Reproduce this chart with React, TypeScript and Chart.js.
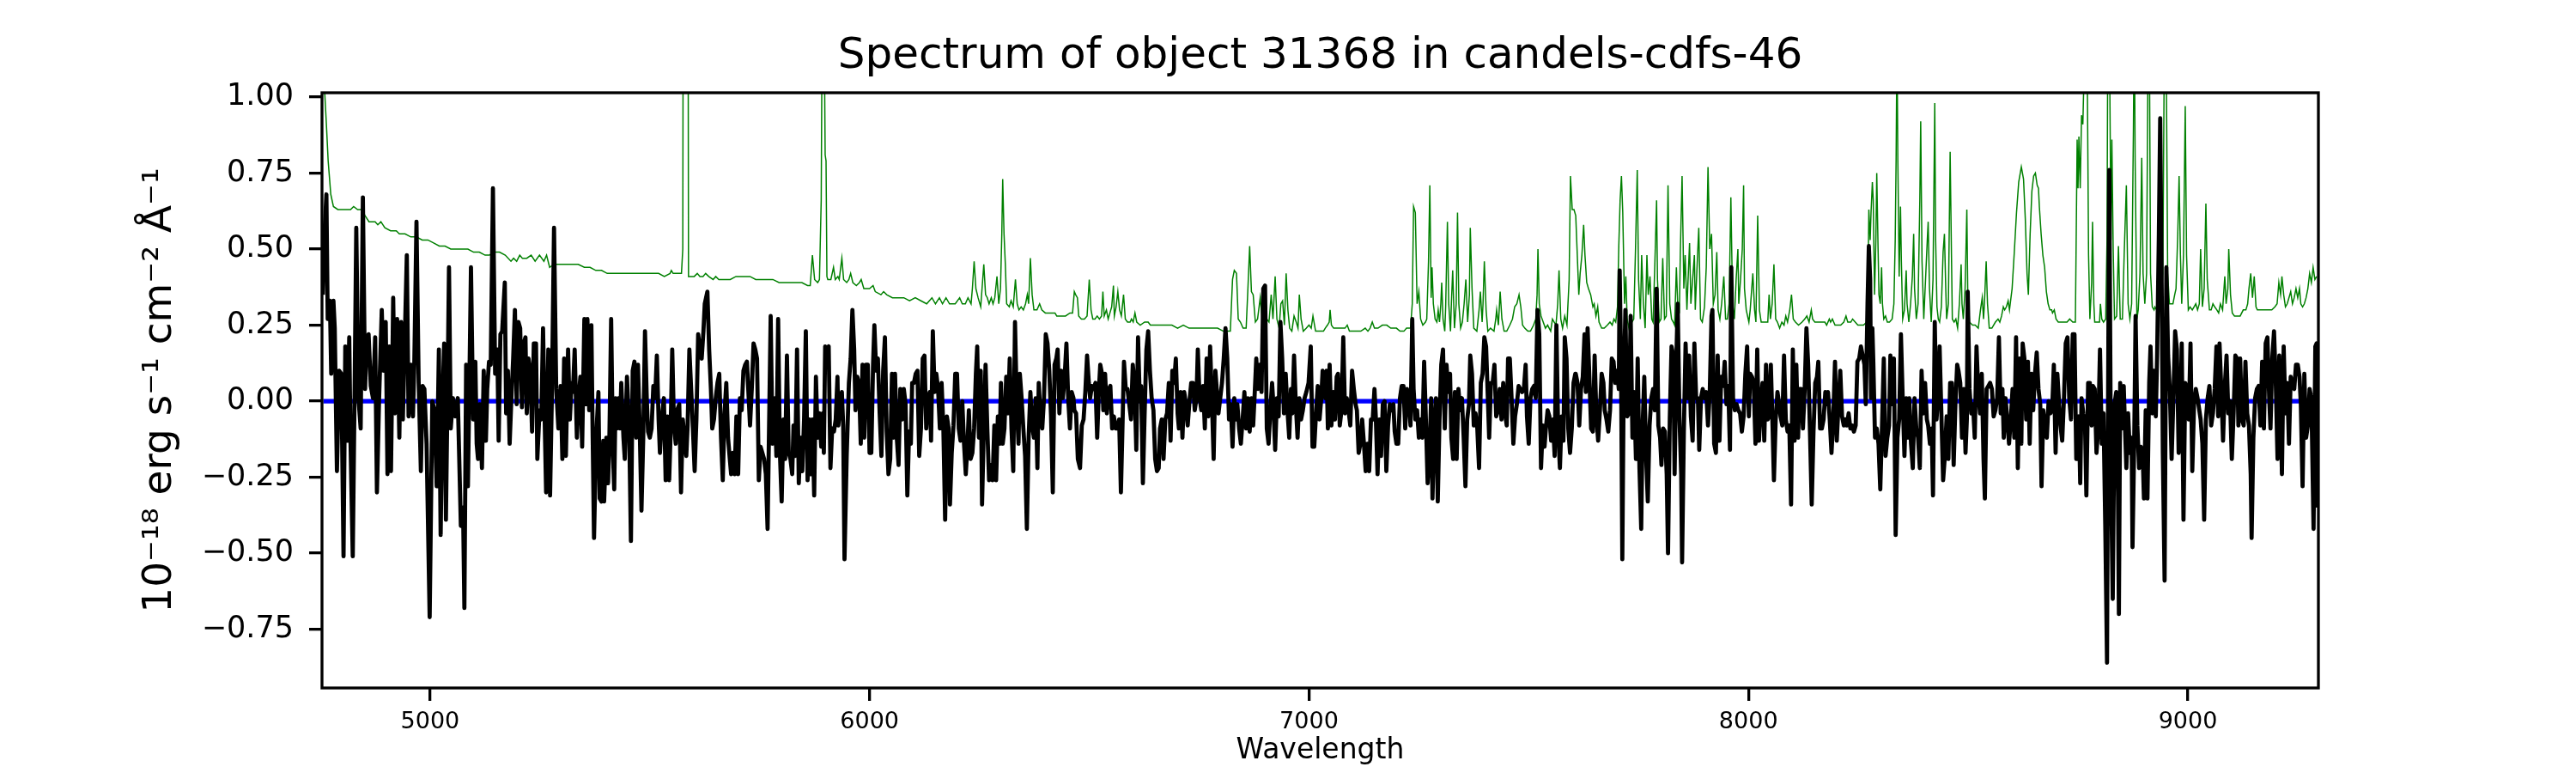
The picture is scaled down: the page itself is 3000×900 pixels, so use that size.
import React, { useEffect, useRef } from "react";
import { Chart, registerables } from "chart.js";

Chart.register(...registerables);

const TITLE = "Spectrum of object 31368 in candels-cdfs-46";
const X_LABEL = "Wavelength";
const Y_LABEL = "10\u207B\u00B9\u2078 erg s\u207B\u00B9 cm\u207B\u00B2 \u00C5\u207B\u00B9";
const X_TICKS = [5000, 6000, 7000, 8000, 9000];
const Y_TICKS = [-0.75, -0.5, -0.25, 0, 0.25, 0.5, 0.75, 1.0];
const X_MIN = 4754;
const X_MAX = 9297;
const Y_MIN = -0.943;
const Y_MAX = 1.014;

// observed flux [wavelength, flux]
const flux1 = [[4756,0.35],[4759,0.53],[4764,0.68],[4767,0.27],[4772,0.33],[4775,0.09],[4780,0.33],[4783,0.24],[4788,-0.23],[4793,0.10],[4798,0.09],[4803,-0.51],[4807,0.18],[4811,-0.13],[4816,0.21],[4819,-0.14],[4824,-0.51],[4828,0.01],[4832,0.57],[4837,0.01],[4842,-0.09],[4847,0.67],[4852,0.04],[4856,0.21],[4860,0.22],[4865,0.05],[4870,0.01],[4875,0.21],[4879,-0.30],[4884,0.01],[4890,0.30],[4894,0.10],[4899,0.26],[4903,-0.24],[4907,0.18],[4911,-0.23],[4916,0.34],[4920,-0.04],[4925,0.27],[4930,-0.12],[4934,0.26],[4938,-0.06],[4943,0.24],[4947,0.48],[4951,-0.05],[4956,0.12],[4961,-0.05],[4964,0.12],[4969,0.59],[4974,0.06],[4979,-0.23],[4983,0.05],[4987,0.04],[4992,-0.14],[4999,-0.71],[5005,0.00],[5010,-0.03],[5015,-0.28],[5020,0.17],[5024,-0.44],[5028,-0.01],[5032,0.19],[5036,-0.39],[5039,-0.05],[5043,0.44],[5047,-0.09],[5052,0.01],[5057,-0.05],[5063,0.01],[5070,-0.41],[5075,-0.35],[5078,-0.68],[5082,0.12],[5086,-0.28],[5090,0.12],[5093,0.44],[5098,-0.06],[5103,0.13],[5106,-0.14],[5109,-0.19],[5113,-0.01],[5118,-0.22],[5122,0.10],[5127,-0.13],[5130,0.04],[5134,0.13],[5138,0.12],[5143,0.70],[5148,0.09],[5153,0.17],[5156,-0.13],[5160,0.22],[5164,0.23],[5170,0.39],[5173,-0.04],[5177,0.10],[5181,-0.14],[5185,0.01],[5189,0.14],[5193,0.30],[5197,-0.01],[5201,0.26],[5205,0.24],[5209,-0.02],[5213,0.19],[5217,0.21],[5220,-0.04],[5224,0.14],[5228,0.10],[5232,-0.10],[5236,0.19],[5241,0.19],[5244,-0.19],[5249,-0.03],[5253,-0.06],[5257,0.24],[5261,-0.08],[5264,-0.30],[5269,0.17],[5273,-0.31],[5277,0.01],[5282,0.57],[5287,0.04],[5292,-0.09],[5297,0.05],[5301,-0.19],[5305,0.14],[5309,-0.18],[5314,0.17],[5318,-0.06],[5322,0.06]];
const flux2 = [[5325,0.03],[5329,0.17],[5334,-0.12],[5338,0.01],[5342,0.08],[5346,-0.15],[5351,0.27],[5355,-0.01],[5358,0.27],[5362,-0.03],[5367,0.25],[5370,-0.12],[5373,-0.45],[5378,-0.12],[5383,0.03],[5386,-0.32],[5390,-0.33],[5394,-0.13],[5396,-0.33],[5401,-0.12],[5405,-0.27],[5408,-0.12],[5412,0.27],[5416,-0.17],[5419,-0.29],[5422,0.01],[5425,-0.09],[5429,0.01],[5432,-0.09],[5435,0.06],[5440,-0.12],[5443,-0.19],[5448,0.08],[5453,-0.09],[5457,-0.46],[5461,0.10],[5465,0.13],[5469,-0.12],[5473,0.12],[5477,-0.09],[5481,-0.36],[5485,-0.12],[5489,0.23],[5493,0.01],[5496,-0.10],[5500,-0.12],[5504,-0.09],[5508,0.05],[5512,0.01],[5516,0.15],[5520,-0.06],[5523,-0.17],[5527,-0.06],[5532,0.01],[5536,-0.26],[5540,-0.05],[5544,-0.26],[5547,-0.12],[5551,0.17],[5555,-0.08],[5559,-0.14],[5562,-0.03],[5567,-0.01],[5571,-0.30],[5575,-0.06],[5579,-0.12],[5583,-0.18],[5586,-0.08],[5590,0.17],[5594,0.04],[5598,-0.09],[5602,-0.23],[5606,-0.06],[5610,0.22],[5614,0.17],[5618,0.14],[5622,0.23],[5625,0.32],[5631,0.36],[5635,0.17],[5639,0.04],[5642,-0.09],[5646,-0.06],[5650,0.01],[5654,0.06],[5658,0.09],[5662,-0.12],[5666,-0.26],[5670,-0.04],[5674,0.06],[5678,-0.12],[5682,-0.19],[5685,-0.24],[5689,-0.17],[5693,-0.24],[5697,-0.05],[5701,-0.24],[5705,0.01],[5709,-0.03],[5713,0.10],[5717,0.12],[5721,0.13],[5725,0.01],[5728,-0.08],[5732,0.04],[5736,0.19],[5740,0.17],[5744,0.14],[5748,-0.26],[5752,-0.15],[5756,-0.17],[5760,-0.19],[5764,-0.24],[5768,-0.42],[5771,-0.12],[5775,0.28],[5779,-0.14],[5784,0.01],[5788,-0.18],[5792,0.27],[5796,-0.17],[5800,-0.33],[5804,-0.06],[5808,-0.19],[5812,0.15],[5816,-0.17],[5820,-0.19],[5824,-0.24],[5827,-0.08],[5831,-0.18],[5835,0.17],[5839,-0.27],[5843,-0.12],[5847,-0.23],[5851,-0.06],[5855,0.23],[5859,-0.26],[5863,-0.06],[5867,-0.24],[5870,-0.06],[5874,-0.31],[5878,0.08],[5882,-0.12],[5886,-0.04],[5890,-0.15],[5894,-0.04]];
const flux3 = [[5896,-0.17],[5899,0.18],[5903,0.17],[5907,0.18],[5911,-0.22],[5915,-0.09],[5919,-0.10],[5923,-0.06],[5927,0.08],[5929,-0.08],[5933,-0.01],[5937,0.03],[5940,-0.08],[5943,-0.52],[5948,-0.18],[5953,0.06],[5957,0.14],[5961,0.30],[5965,0.17],[5968,-0.03],[5972,0.08],[5976,0.06],[5980,-0.14],[5984,0.12],[5988,-0.12],[5992,0.12],[5996,0.12],[6000,-0.17],[6004,-0.17],[6008,0.12],[6011,0.25],[6015,0.10],[6019,0.14],[6023,-0.04],[6027,-0.18],[6031,0.10],[6035,0.21],[6039,-0.10],[6043,-0.24],[6047,-0.19],[6051,0.09],[6054,-0.12],[6058,0.09],[6062,-0.12],[6066,-0.21],[6070,0.04],[6074,-0.06],[6078,0.04],[6082,-0.01],[6086,-0.31],[6090,-0.10],[6094,-0.14],[6097,0.06],[6101,0.06],[6105,0.09],[6109,0.10],[6113,-0.18],[6117,-0.09],[6121,0.14],[6125,0.15],[6129,-0.09],[6133,0.01],[6137,0.03],[6140,-0.13],[6144,0.23],[6148,0.03],[6152,0.09],[6156,0.04],[6160,-0.09],[6164,0.06],[6168,-0.09],[6172,-0.39],[6176,-0.05],[6180,-0.09],[6183,-0.34],[6187,-0.17],[6191,-0.08],[6195,0.09],[6199,0.09],[6203,-0.09],[6207,-0.13],[6211,0.00],[6215,-0.14],[6219,-0.24],[6223,-0.14],[6226,-0.03],[6230,-0.19],[6234,-0.17],[6238,-0.09],[6242,0.09],[6245,0.18],[6249,-0.12],[6253,0.10],[6256,-0.34],[6260,-0.09],[6264,0.12],[6268,-0.09],[6272,-0.26],[6276,-0.21],[6280,-0.26],[6284,-0.08],[6288,-0.26],[6292,-0.05],[6296,-0.14],[6299,0.06],[6303,-0.14],[6307,-0.09],[6311,0.08],[6315,-0.04],[6319,0.14],[6323,-0.09],[6327,-0.23],[6331,0.26],[6335,-0.01],[6339,-0.14],[6342,0.09],[6346,0.01],[6350,-0.09],[6354,-0.18],[6358,-0.42],[6362,-0.12],[6366,0.03],[6370,-0.08],[6374,-0.12],[6378,0.01],[6382,-0.22],[6385,0.06],[6389,-0.05],[6393,-0.09],[6397,0.01],[6401,0.22],[6405,0.19],[6409,0.10],[6413,-0.05],[6417,-0.30],[6421,0.12],[6425,0.14],[6428,0.17],[6432,-0.04],[6436,0.10],[6440,0.01],[6444,0.08],[6448,0.19],[6452,0.01],[6456,-0.09],[6460,0.03],[6464,0.01]];
const flux4 = [[6466,-0.03],[6470,-0.04],[6474,-0.19],[6479,-0.22],[6483,-0.08],[6487,-0.06],[6491,0.03],[6495,0.15],[6499,0.06],[6502,0.01],[6506,0.05],[6510,0.04],[6514,0.06],[6518,-0.12],[6522,0.04],[6525,0.12],[6529,0.09],[6532,-0.03],[6536,0.09],[6540,-0.04],[6544,0.04],[6548,0.05],[6552,-0.09],[6556,-0.05],[6560,-0.09],[6564,-0.09],[6568,-0.06],[6572,-0.30],[6575,-0.12],[6579,0.13],[6583,0.04],[6587,0.04],[6591,-0.01],[6595,-0.06],[6599,0.12],[6603,0.06],[6607,-0.16],[6611,0.21],[6615,0.00],[6618,0.05],[6622,-0.27],[6626,-0.04],[6630,0.17],[6634,0.23],[6638,0.10],[6642,0.01],[6646,-0.03],[6650,-0.19],[6654,-0.23],[6658,-0.22],[6661,-0.09],[6665,-0.06],[6669,-0.19],[6673,-0.06],[6677,-0.04],[6681,0.06],[6685,-0.13],[6689,0.10],[6693,0.06],[6697,0.14],[6701,-0.04],[6704,-0.09],[6708,0.03],[6712,-0.12],[6716,0.03],[6720,-0.01],[6724,-0.08],[6728,0.00],[6732,0.06],[6736,0.06],[6740,-0.03],[6744,0.01],[6747,0.17],[6751,0.01],[6755,-0.03],[6759,0.05],[6763,-0.09],[6767,0.14],[6771,-0.05],[6775,0.18],[6779,0.01],[6783,-0.19],[6787,0.10],[6790,0.04],[6794,-0.04],[6798,0.01],[6802,0.06],[6806,0.14],[6810,0.24],[6814,0.14],[6818,-0.06],[6822,-0.01],[6826,-0.15],[6830,0.01],[6833,-0.06],[6837,-0.01],[6841,-0.09],[6845,-0.14],[6849,-0.06],[6853,0.03],[6857,-0.09],[6861,0.01],[6865,-0.10],[6869,0.01],[6873,-0.08],[6876,0.01],[6880,0.14],[6884,0.04],[6888,0.12],[6892,0.03],[6896,0.37],[6900,0.38],[6904,-0.09],[6908,-0.14],[6912,-0.03],[6916,0.06],[6919,-0.01],[6923,-0.16],[6927,0.01],[6931,-0.05],[6935,0.26],[6939,0.14],[6943,-0.04],[6947,0.09],[6951,-0.03],[6955,-0.12],[6959,0.04],[6962,-0.04],[6966,0.15],[6970,-0.01],[6974,-0.12],[6978,0.01],[6982,-0.06],[6986,-0.03],[6990,0.01],[6994,0.03],[6999,0.06],[7004,0.18],[7008,-0.15],[7012,-0.15],[7016,-0.04],[7020,0.05],[7024,-0.06],[7028,0.01],[7031,0.10],[7035,0.06]];
const flux5 = [[7037,0.01],[7040,0.10],[7043,-0.09],[7047,0.12],[7051,-0.08],[7055,0.03],[7059,-0.06],[7063,0.08],[7066,0.09],[7070,-0.08],[7074,-0.03],[7078,0.21],[7082,-0.04],[7086,0.01],[7090,-0.03],[7094,-0.08],[7098,0.10],[7102,0.04],[7106,-0.01],[7109,-0.03],[7113,-0.17],[7117,-0.14],[7121,-0.06],[7125,-0.14],[7129,-0.23],[7133,-0.14],[7137,-0.23],[7141,-0.06],[7145,-0.06],[7149,0.04],[7152,-0.05],[7156,-0.24],[7160,-0.06],[7164,-0.18],[7168,-0.01],[7172,0.00],[7176,-0.23],[7180,-0.08],[7184,-0.01],[7188,-0.03],[7192,-0.01],[7195,-0.10],[7199,-0.14],[7203,-0.14],[7207,0.01],[7211,0.05],[7215,0.05],[7219,-0.09],[7223,0.04],[7227,0.01],[7231,-0.08],[7235,0.27],[7238,0.04],[7242,-0.06],[7246,-0.03],[7250,-0.12],[7254,-0.06],[7258,-0.12],[7262,0.13],[7266,-0.06],[7270,-0.27],[7274,-0.18],[7278,0.01],[7281,-0.32],[7285,-0.09],[7289,0.01],[7293,-0.33],[7297,-0.06],[7301,0.12],[7305,0.17],[7309,-0.09],[7313,0.12],[7317,0.03],[7321,0.09],[7324,-0.12],[7328,-0.19],[7332,0.03],[7336,-0.19],[7340,0.04],[7344,-0.03],[7348,0.01],[7352,-0.12],[7356,-0.28],[7360,-0.06],[7364,-0.01],[7367,0.15],[7371,0.09],[7375,-0.08],[7379,-0.04],[7383,-0.09],[7387,-0.22],[7391,0.06],[7395,0.09],[7399,0.21],[7403,0.18],[7407,0.01],[7410,-0.12],[7414,0.06],[7418,0.06],[7422,0.12],[7426,-0.05],[7430,-0.03],[7434,0.04],[7438,-0.06],[7442,0.06],[7446,-0.04],[7450,-0.08],[7453,0.14],[7457,0.14],[7461,0.01],[7465,-0.14],[7469,-0.05],[7473,-0.01],[7477,0.05],[7481,0.04],[7485,0.03],[7489,0.04],[7493,0.12],[7496,-0.05],[7500,-0.14],[7504,0.01],[7508,0.04],[7512,0.05],[7516,0.01],[7520,0.30],[7524,0.22],[7528,-0.22],[7532,-0.08],[7536,-0.15],[7539,-0.09],[7543,-0.03],[7547,-0.05],[7551,-0.13],[7555,-0.06],[7559,-0.18],[7563,0.25],[7567,-0.10],[7571,-0.22],[7575,-0.05],[7579,-0.13],[7582,0.21],[7586,0.14],[7590,-0.09],[7594,-0.17],[7598,-0.09],[7602,0.06],[7606,0.09]];
const flux6 = [[7607,0.09],[7611,0.06],[7615,-0.08],[7619,0.04],[7623,0.08],[7627,0.22],[7630,0.03],[7634,0.24],[7638,0.08],[7642,-0.09],[7646,-0.10],[7650,0.15],[7654,-0.05],[7658,-0.13],[7662,-0.03],[7666,0.09],[7670,0.06],[7673,-0.03],[7677,-0.06],[7681,-0.10],[7685,-0.03],[7689,0.14],[7693,0.13],[7697,0.06],[7701,0.10],[7705,0.04],[7707,0.43],[7710,0.14],[7713,-0.52],[7716,0.04],[7720,0.30],[7724,-0.05],[7728,-0.04],[7732,0.28],[7736,-0.12],[7740,0.03],[7744,-0.19],[7748,0.14],[7752,-0.22],[7756,-0.42],[7759,-0.09],[7763,0.08],[7767,-0.18],[7771,-0.33],[7775,-0.08],[7779,0.01],[7783,0.04],[7787,-0.03],[7791,0.37],[7795,-0.08],[7799,-0.12],[7802,-0.21],[7806,-0.09],[7810,-0.10],[7814,-0.24],[7817,-0.50],[7821,-0.06],[7825,0.18],[7829,0.15],[7832,-0.24],[7836,0.14],[7839,0.32],[7843,-0.05],[7847,-0.24],[7849,-0.53],[7853,-0.10],[7857,0.19],[7861,0.01],[7865,0.15],[7869,-0.05],[7873,-0.13],[7877,0.19],[7881,0.01],[7885,0.01],[7888,-0.16],[7892,0.01],[7896,0.04],[7900,0.01],[7904,0.03],[7908,-0.08],[7912,0.03],[7916,0.28],[7918,0.30],[7922,-0.14],[7926,-0.17],[7930,0.15],[7934,-0.13],[7938,0.08],[7942,0.05],[7946,0.13],[7950,-0.01],[7954,0.05],[7958,-0.16],[7961,0.44],[7965,0.01],[7969,-0.03],[7973,-0.01],[7977,-0.03],[7981,-0.04],[7985,-0.10],[7989,-0.05],[7993,0.09],[7997,0.18],[8001,-0.05],[8004,0.09],[8008,0.08],[8012,0.06],[8016,-0.14],[8020,0.17],[8024,-0.13],[8028,-0.01],[8032,0.06],[8036,-0.13],[8040,0.12],[8044,-0.06],[8047,-0.05],[8051,0.12],[8055,-0.09],[8058,-0.26],[8062,-0.06],[8066,0.03],[8070,-0.01],[8073,-0.05],[8077,-0.08],[8081,0.15],[8085,-0.06],[8089,-0.10],[8093,-0.08],[8097,-0.34],[8101,0.17],[8105,-0.13],[8109,0.12],[8113,-0.12],[8116,0.04],[8120,0.04],[8124,-0.09],[8128,0.04],[8132,0.24],[8136,0.12],[8140,-0.10],[8144,-0.34],[8148,-0.10],[8152,0.06],[8156,0.08],[8159,0.13],[8163,-0.09],[8167,-0.09],[8171,-0.06],[8175,0.03]];
const flux7 = [[8178,-0.01],[8181,0.03],[8185,-0.06],[8189,-0.17],[8193,-0.06],[8197,0.13],[8201,-0.13],[8205,-0.01],[8209,0.10],[8213,-0.05],[8217,-0.08],[8221,-0.06],[8224,-0.08],[8228,-0.04],[8232,-0.09],[8236,-0.08],[8240,-0.10],[8244,-0.08],[8248,0.13],[8252,0.14],[8256,0.18],[8260,0.15],[8264,0.12],[8267,-0.01],[8271,0.32],[8274,0.51],[8277,0.40],[8279,0.01],[8282,0.24],[8284,0.14],[8288,-0.12],[8292,-0.09],[8296,-0.14],[8300,-0.29],[8304,-0.08],[8308,0.14],[8312,-0.18],[8316,-0.12],[8320,-0.08],[8323,0.15],[8327,-0.01],[8331,0.14],[8335,-0.44],[8339,-0.12],[8343,-0.06],[8347,0.22],[8351,0.01],[8355,-0.18],[8359,0.01],[8363,-0.12],[8366,0.01],[8370,-0.14],[8374,-0.22],[8378,0.01],[8382,-0.09],[8386,-0.12],[8390,-0.22],[8394,0.10],[8398,-0.04],[8402,0.06],[8406,-0.06],[8409,-0.08],[8413,-0.14],[8417,-0.09],[8420,-0.31],[8424,0.26],[8428,-0.06],[8432,0.03],[8435,0.18],[8439,-0.04],[8443,-0.26],[8447,-0.18],[8451,-0.05],[8455,-0.19],[8459,0.06],[8463,0.06],[8467,-0.21],[8471,-0.01],[8475,0.12],[8478,0.10],[8482,0.06],[8486,-0.12],[8490,0.04],[8494,-0.17],[8497,-0.06],[8499,0.36],[8503,0.04],[8507,-0.04],[8511,-0.01],[8515,-0.12],[8519,0.18],[8523,0.03],[8527,-0.04],[8531,0.09],[8535,-0.19],[8538,-0.32],[8542,0.04],[8546,0.05],[8550,0.06],[8554,0.04],[8558,-0.05],[8562,-0.03],[8566,0.01],[8570,0.21],[8574,-0.04],[8578,0.04],[8581,-0.12],[8585,0.01],[8589,-0.06],[8593,-0.14],[8597,-0.06],[8601,0.04],[8605,-0.12],[8609,0.21],[8613,-0.22],[8617,0.14],[8621,-0.14],[8624,0.19],[8628,0.14],[8632,-0.06],[8636,0.13],[8640,-0.14],[8644,0.09],[8648,-0.03],[8652,0.09],[8656,0.16],[8660,0.04],[8664,-0.01],[8667,-0.28],[8671,-0.03],[8675,-0.08],[8679,-0.12],[8683,0.00],[8687,-0.04],[8691,-0.03],[8695,0.12],[8699,-0.17],[8703,0.09],[8707,-0.01],[8710,-0.08],[8714,-0.13],[8718,0.01],[8722,0.19],[8726,0.21],[8730,0.01],[8734,-0.06],[8738,0.22],[8742,0.22],[8746,-0.19]];
const flux8 = [[8748,-0.19],[8752,-0.05],[8755,-0.27],[8758,0.01],[8762,-0.04],[8766,-0.08],[8769,-0.31],[8773,0.06],[8777,0.06],[8781,-0.08],[8784,0.05],[8788,0.04],[8792,-0.17],[8796,-0.09],[8800,0.17],[8804,-0.14],[8808,-0.04],[8812,-0.41],[8816,-0.86],[8818,-0.12],[8821,0.76],[8825,-0.24],[8829,-0.65],[8833,-0.01],[8837,0.03],[8841,-0.31],[8843,-0.70],[8846,0.06],[8850,-0.09],[8854,0.05],[8857,-0.09],[8860,-0.22],[8864,-0.04],[8868,-0.17],[8872,-0.12],[8874,-0.48],[8878,-0.12],[8881,0.28],[8885,-0.08],[8889,-0.22],[8893,-0.15],[8897,-0.17],[8900,-0.32],[8904,-0.03],[8908,-0.32],[8912,0.06],[8915,0.18],[8919,-0.04],[8923,0.10],[8927,-0.05],[8930,0.15],[8934,0.55],[8937,0.93],[8941,0.27],[8943,-0.17],[8947,-0.59],[8951,0.44],[8955,0.15],[8959,0.03],[8963,-0.19],[8967,0.01],[8971,0.23],[8975,0.17],[8979,-0.17],[8983,-0.06],[8986,0.19],[8990,-0.39],[8994,0.06],[8998,0.04],[9002,-0.06],[9006,0.19],[9010,-0.23],[9014,-0.01],[9018,0.04],[9022,0.01],[9026,-0.03],[9029,-0.06],[9033,-0.14],[9037,-0.39],[9041,-0.06],[9045,0.01],[9049,0.05],[9053,-0.08],[9057,-0.04],[9061,0.04],[9065,0.18],[9069,-0.05],[9072,0.19],[9076,0.04],[9080,-0.13],[9084,0.05],[9088,0.15],[9092,-0.04],[9096,0.00],[9100,-0.19],[9104,-0.04],[9108,0.15],[9112,0.14],[9115,-0.08],[9119,0.14],[9123,-0.06],[9127,-0.08],[9131,0.13],[9135,-0.04],[9139,-0.08],[9143,-0.24],[9145,-0.45],[9149,-0.12],[9153,0.01],[9157,0.04],[9161,0.05],[9165,-0.08],[9169,0.13],[9173,-0.09],[9177,0.19],[9181,0.21],[9185,0.01],[9188,-0.09],[9192,0.14],[9196,0.23],[9200,0.06],[9204,-0.19],[9208,0.15],[9212,-0.09],[9214,-0.24],[9218,0.18],[9222,-0.04],[9226,0.06],[9230,-0.14],[9234,0.08],[9238,0.05],[9242,0.04],[9246,0.12],[9250,0.12],[9254,0.08],[9257,-0.01],[9261,-0.28],[9265,0.09],[9269,-0.12],[9273,-0.08],[9277,0.04],[9281,0.01],[9286,-0.42],[9290,0.18],[9293,0.19],[9294,-0.35]];

// sky / noise spectrum [wavelength, value]
const sky1 = [[4754,1.2],[4760,1.02],[4764,0.91],[4768,0.79],[4774,0.68],[4780,0.64],[4790,0.63],[4800,0.63],[4809,0.63],[4819,0.63],[4826,0.64],[4835,0.63],[4845,0.63],[4852,0.61],[4861,0.59],[4868,0.59],[4875,0.59],[4881,0.58],[4888,0.59],[4897,0.57],[4910,0.56],[4923,0.56],[4930,0.55],[4943,0.55],[4956,0.54],[4969,0.54],[4982,0.53],[4995,0.53],[5008,0.52],[5021,0.51],[5034,0.51],[5047,0.50],[5060,0.50],[5073,0.50],[5086,0.50],[5099,0.49],[5112,0.49],[5125,0.48],[5135,0.48],[5145,0.49],[5158,0.49],[5171,0.48],[5184,0.46],[5190,0.47],[5197,0.46],[5204,0.48],[5210,0.47],[5220,0.47],[5230,0.48],[5239,0.46],[5249,0.48],[5259,0.46],[5265,0.48],[5272,0.44],[5282,0.45],[5295,0.45],[5308,0.45],[5321,0.45]];
const sky2 = [[5325,0.45],[5337,0.45],[5351,0.44],[5364,0.44],[5377,0.43],[5390,0.43],[5403,0.42],[5416,0.42],[5429,0.42],[5442,0.42],[5455,0.42],[5468,0.42],[5481,0.42],[5494,0.42],[5507,0.42],[5520,0.42],[5533,0.41],[5546,0.42],[5549,0.43],[5553,0.42],[5566,0.42],[5572,0.42],[5575,0.5],[5577,2.5],[5586,2.5],[5588,0.41],[5595,0.41],[5601,0.41],[5608,0.42],[5614,0.41],[5621,0.41],[5627,0.42],[5634,0.41],[5644,0.40],[5650,0.41],[5657,0.40],[5670,0.40],[5683,0.40],[5696,0.41],[5709,0.41],[5722,0.41],[5728,0.41],[5741,0.40],[5754,0.40],[5768,0.40],[5780,0.40],[5794,0.39],[5807,0.39],[5820,0.39],[5833,0.39],[5846,0.39],[5859,0.38],[5865,0.38],[5870,0.48],[5875,0.40],[5882,0.39],[5886,0.40],[5890,0.66],[5893,1.5]];
const sky3 = [[5896,1.5],[5897,1.2],[5899,0.81],[5901,0.79],[5903,0.41],[5905,0.40],[5912,0.40],[5918,0.44],[5922,0.40],[5928,0.41],[5931,0.40],[5937,0.47],[5941,0.40],[5948,0.39],[5953,0.40],[5957,0.42],[5962,0.39],[5970,0.38],[5977,0.39],[5981,0.40],[5987,0.37],[6000,0.37],[6008,0.38],[6013,0.36],[6026,0.35],[6032,0.36],[6039,0.35],[6052,0.34],[6065,0.34],[6078,0.34],[6091,0.33],[6104,0.34],[6117,0.33],[6130,0.32],[6142,0.34],[6150,0.32],[6159,0.34],[6166,0.32],[6174,0.34],[6182,0.32],[6195,0.32],[6205,0.34],[6211,0.32],[6218,0.32],[6224,0.34],[6231,0.32],[6234,0.37],[6238,0.46],[6242,0.37],[6247,0.34],[6253,0.31],[6256,0.37],[6260,0.45],[6264,0.35],[6268,0.34],[6272,0.32],[6277,0.34],[6281,0.32],[6285,0.34],[6290,0.41],[6294,0.32],[6298,0.37],[6301,0.55],[6303,0.73],[6306,0.55],[6309,0.45],[6312,0.32],[6318,0.31],[6322,0.33],[6327,0.31],[6332,0.40],[6336,0.32],[6340,0.30],[6345,0.31],[6350,0.30],[6355,0.32],[6359,0.35],[6362,0.32],[6366,0.47],[6370,0.35],[6374,0.30],[6381,0.30],[6387,0.32],[6392,0.30],[6400,0.29],[6410,0.29],[6422,0.29],[6426,0.28],[6436,0.28],[6446,0.28],[6456,0.29],[6462,0.29],[6466,0.36]];
const sky4 = [[6469,0.35],[6473,0.34],[6476,0.28],[6482,0.27],[6489,0.27],[6495,0.28],[6500,0.40],[6504,0.30],[6508,0.27],[6513,0.27],[6518,0.28],[6523,0.27],[6528,0.28],[6531,0.36],[6534,0.28],[6539,0.30],[6543,0.27],[6547,0.29],[6551,0.31],[6555,0.38],[6557,0.28],[6561,0.31],[6565,0.36],[6569,0.30],[6573,0.28],[6578,0.35],[6582,0.27],[6587,0.26],[6593,0.26],[6596,0.27],[6600,0.26],[6604,0.29],[6608,0.26],[6616,0.25],[6626,0.26],[6634,0.26],[6639,0.25],[6648,0.25],[6661,0.25],[6669,0.25],[6674,0.25],[6688,0.25],[6701,0.24],[6714,0.25],[6727,0.24],[6740,0.24],[6753,0.24],[6766,0.24],[6779,0.24],[6792,0.24],[6805,0.23],[6821,0.23],[6826,0.40],[6830,0.43],[6835,0.42],[6839,0.27],[6844,0.26],[6850,0.24],[6857,0.24],[6861,0.37],[6865,0.51],[6869,0.36],[6873,0.35],[6878,0.26],[6883,0.27],[6889,0.34],[6895,0.24],[6899,0.28],[6904,0.27],[6909,0.26],[6914,0.35],[6918,0.27],[6923,0.41],[6927,0.27],[6932,0.24],[6936,0.32],[6940,0.33],[6944,0.25],[6948,0.42],[6952,0.30],[6956,0.24],[6961,0.23],[6966,0.28],[6971,0.26],[6975,0.24],[6978,0.35],[6982,0.27],[6987,0.23],[6994,0.24],[7000,0.25],[7005,0.24],[7009,0.28],[7015,0.23],[7020,0.23],[7026,0.23],[7033,0.23]];
const sky5 = [[7037,0.24],[7042,0.25],[7046,0.26],[7048,0.30],[7051,0.25],[7056,0.24],[7063,0.24],[7069,0.24],[7076,0.24],[7082,0.24],[7087,0.25],[7092,0.23],[7098,0.23],[7108,0.23],[7118,0.23],[7128,0.24],[7134,0.23],[7139,0.24],[7144,0.26],[7149,0.24],[7157,0.24],[7167,0.25],[7177,0.25],[7186,0.24],[7193,0.24],[7199,0.24],[7207,0.23],[7216,0.23],[7222,0.24],[7231,0.24],[7235,0.32],[7238,0.64],[7242,0.62],[7246,0.32],[7250,0.36],[7254,0.27],[7259,0.25],[7265,0.26],[7268,0.27],[7272,0.46],[7275,0.71],[7278,0.34],[7280,0.44],[7283,0.32],[7287,0.27],[7291,0.26],[7294,0.30],[7297,0.26],[7300,0.32],[7302,0.39],[7305,0.27],[7309,0.23],[7311,0.31],[7315,0.59],[7318,0.32],[7322,0.23],[7324,0.32],[7327,0.43],[7331,0.24],[7335,0.32],[7338,0.62],[7341,0.32],[7345,0.24],[7349,0.26],[7353,0.32],[7357,0.40],[7361,0.26],[7365,0.35],[7367,0.57],[7371,0.37],[7375,0.24],[7382,0.23],[7387,0.30],[7390,0.36],[7394,0.26],[7396,0.32],[7399,0.46],[7403,0.30],[7407,0.23],[7413,0.24],[7421,0.23],[7425,0.27],[7427,0.30],[7431,0.25],[7435,0.36],[7439,0.27],[7444,0.23],[7450,0.23],[7457,0.25],[7463,0.27],[7468,0.31],[7473,0.32],[7478,0.35],[7482,0.31],[7486,0.25],[7491,0.24],[7498,0.23],[7504,0.23],[7511,0.25],[7516,0.27],[7519,0.35],[7521,0.50],[7524,0.32],[7528,0.28],[7533,0.26],[7538,0.24],[7543,0.25],[7550,0.23],[7554,0.27],[7558,0.26],[7562,0.25],[7566,0.32],[7569,0.43],[7573,0.27],[7577,0.24],[7582,0.28],[7587,0.25],[7592,0.40],[7595,0.74],[7599,0.63],[7603,0.63]];
const sky6 = [[7607,0.61],[7610,0.50],[7614,0.35],[7617,0.42],[7621,0.48],[7625,0.58],[7628,0.48],[7632,0.39],[7636,0.37],[7641,0.35],[7646,0.31],[7649,0.32],[7653,0.28],[7657,0.31],[7660,0.26],[7666,0.24],[7672,0.24],[7679,0.25],[7685,0.26],[7690,0.25],[7694,0.27],[7698,0.26],[7702,0.31],[7705,0.51],[7708,0.66],[7711,0.74],[7714,0.62],[7718,0.32],[7721,0.41],[7724,0.27],[7728,0.24],[7731,0.28],[7735,0.26],[7739,0.27],[7743,0.50],[7747,0.76],[7750,0.40],[7754,0.27],[7757,0.48],[7761,0.32],[7765,0.24],[7769,0.48],[7772,0.35],[7776,0.41],[7780,0.27],[7783,0.26],[7787,0.45],[7791,0.66],[7793,0.40],[7797,0.26],[7801,0.27],[7805,0.47],[7809,0.27],[7813,0.28],[7817,0.71],[7821,0.32],[7825,0.27],[7829,0.26],[7832,0.25],[7836,0.44],[7839,0.32],[7843,0.30],[7845,0.49],[7849,0.74],[7853,0.37],[7856,0.48],[7860,0.30],[7864,0.45],[7866,0.52],[7869,0.32],[7873,0.40],[7877,0.48],[7879,0.30],[7883,0.44],[7887,0.57],[7891,0.27],[7895,0.26],[7900,0.31],[7904,0.44],[7908,0.77],[7912,0.50],[7916,0.55],[7920,0.32],[7924,0.35],[7928,0.49],[7931,0.30],[7935,0.27],[7939,0.32],[7944,0.41],[7948,0.27],[7952,0.27],[7956,0.32],[7960,0.67],[7964,0.32],[7968,0.27],[7972,0.40],[7976,0.50],[7978,0.32],[7982,0.40],[7986,0.50],[7989,0.71],[7991,0.37],[7995,0.30],[8001,0.26],[8004,0.30],[8010,0.42],[8014,0.30],[8017,0.26],[8021,0.61],[8025,0.30],[8029,0.26],[8034,0.26],[8038,0.26],[8044,0.26],[8047,0.35],[8050,0.27],[8054,0.32],[8058,0.45],[8062,0.27],[8066,0.26],[8071,0.24],[8076,0.26],[8081,0.25],[8085,0.28],[8089,0.26],[8094,0.30],[8098,0.35],[8102,0.27],[8107,0.26],[8114,0.25],[8122,0.26],[8128,0.27],[8133,0.28],[8138,0.26],[8143,0.30],[8146,0.27],[8151,0.26],[8156,0.26],[8161,0.26],[8167,0.26],[8174,0.26]];
const sky7 = [[8178,0.25],[8184,0.27],[8187,0.26],[8191,0.27],[8197,0.25],[8204,0.25],[8210,0.25],[8217,0.26],[8222,0.28],[8226,0.26],[8233,0.26],[8237,0.27],[8243,0.26],[8249,0.25],[8256,0.25],[8262,0.25],[8269,0.26],[8272,0.37],[8274,0.63],[8277,0.53],[8279,0.62],[8282,0.72],[8284,0.66],[8287,0.35],[8290,0.53],[8292,0.75],[8295,0.50],[8297,0.35],[8300,0.32],[8303,0.44],[8305,0.32],[8308,0.27],[8312,0.28],[8316,0.26],[8321,0.26],[8327,0.27],[8331,0.32],[8334,0.53],[8336,0.79],[8338,1.2],[8340,0.79],[8343,0.41],[8346,0.64],[8348,0.46],[8351,0.27],[8355,0.30],[8359,0.43],[8361,0.32],[8365,0.26],[8369,0.32],[8373,0.41],[8376,0.55],[8378,0.37],[8382,0.27],[8386,0.32],[8390,0.66],[8392,0.92],[8395,0.46],[8399,0.27],[8403,0.40],[8407,0.53],[8409,0.59],[8412,0.37],[8416,0.26],[8420,0.40],[8424,0.98],[8426,0.53],[8429,0.31],[8432,0.27],[8435,0.26],[8439,0.31],[8443,0.49],[8446,0.55],[8449,0.37],[8451,0.27],[8455,0.32],[8459,0.82],[8462,0.48],[8464,0.27],[8468,0.26],[8472,0.27],[8476,0.24],[8480,0.32],[8484,0.45],[8486,0.32],[8489,0.27],[8493,0.37],[8497,0.63],[8499,0.37],[8503,0.26],[8510,0.25],[8516,0.25],[8523,0.24],[8528,0.30],[8532,0.34],[8535,0.27],[8537,0.32],[8541,0.46],[8544,0.32],[8548,0.24],[8554,0.24],[8562,0.26],[8568,0.27],[8572,0.26],[8576,0.28],[8580,0.31],[8583,0.30],[8587,0.31],[8591,0.33],[8594,0.30],[8600,0.37],[8605,0.49],[8610,0.62],[8615,0.72],[8621,0.77],[8626,0.73],[8630,0.60],[8634,0.42],[8637,0.35],[8641,0.55],[8645,0.69],[8649,0.74],[8653,0.75],[8657,0.71],[8660,0.70],[8662,0.64],[8666,0.55],[8670,0.48],[8674,0.44],[8678,0.36],[8682,0.32],[8686,0.30],[8690,0.30],[8692,0.29],[8696,0.30],[8700,0.27],[8705,0.26],[8712,0.26],[8718,0.26],[8725,0.26],[8731,0.27],[8738,0.26],[8744,0.26],[8748,0.86]];
const sky8 = [[8750,0.70],[8752,0.87],[8755,0.70],[8758,0.94],[8761,0.91],[8764,1.1],[8768,1.3],[8771,1.1],[8774,0.48],[8777,0.27],[8781,0.39],[8783,0.59],[8786,0.32],[8788,0.26],[8794,0.26],[8799,0.26],[8801,0.32],[8804,0.27],[8808,0.26],[8813,0.27],[8816,0.53],[8818,1.3],[8821,1.3],[8825,0.53],[8827,0.86],[8830,0.50],[8833,0.27],[8838,0.28],[8842,0.51],[8846,0.27],[8851,0.27],[8855,0.48],[8860,0.71],[8864,0.32],[8868,0.27],[8872,0.32],[8876,0.89],[8878,1.3],[8880,0.79],[8884,0.27],[8887,0.30],[8891,0.42],[8895,0.80],[8898,0.42],[8902,0.32],[8906,0.42],[8910,1.3],[8912,1.3],[8915,0.42],[8919,0.31],[8923,0.30],[8925,0.31],[8929,0.30],[8932,0.37],[8936,0.35],[8940,0.35],[8943,0.42],[8947,1.3],[8950,1.3],[8954,0.42],[8958,0.32],[8962,0.32],[8966,0.32],[8970,0.35],[8973,0.37],[8977,0.55],[8980,0.74],[8983,0.48],[8986,0.32],[8990,0.48],[8994,0.97],[8997,0.48],[9001,0.30],[9005,0.31],[9010,0.30],[9014,0.31],[9018,0.32],[9022,0.30],[9026,0.32],[9029,0.50],[9033,0.31],[9037,0.37],[9041,0.65],[9044,0.40],[9049,0.30],[9053,0.30],[9057,0.32],[9061,0.31],[9066,0.30],[9070,0.29],[9074,0.32],[9079,0.30],[9084,0.41],[9087,0.32],[9091,0.37],[9093,0.50],[9097,0.35],[9101,0.29],[9106,0.28],[9113,0.28],[9119,0.28],[9126,0.30],[9132,0.30],[9136,0.32],[9139,0.37],[9143,0.42],[9147,0.34],[9151,0.41],[9155,0.31],[9158,0.30],[9165,0.30],[9171,0.30],[9178,0.30],[9185,0.30],[9191,0.30],[9198,0.31],[9203,0.32],[9207,0.39],[9211,0.35],[9214,0.41],[9218,0.35],[9222,0.31],[9226,0.32],[9230,0.34],[9234,0.36],[9238,0.32],[9242,0.34],[9246,0.37],[9250,0.34],[9254,0.37],[9257,0.32],[9261,0.31],[9265,0.32],[9269,0.34],[9273,0.37],[9277,0.42],[9281,0.39],[9285,0.44],[9289,0.40],[9293,0.41]];

// model continuum
const modelLine = [[4757, 0], [9289, 0]];

const FONT = "'DejaVu Sans', sans-serif";

const toXY = (pts: number[][]) => pts.map(([x, y]) => ({ x, y }));

const framePlugin = {
  id: "axesFrame",
  afterDatasetsDraw(chart: any) {
    const { ctx, chartArea: a } = chart;
    ctx.save();
    ctx.strokeStyle = "#000000";
    ctx.lineWidth = 3.3;
    ctx.strokeRect(a.left, a.top, a.right - a.left, a.bottom - a.top);
    ctx.restore();
  },
};

export default function App() {
  const ref = useRef<HTMLCanvasElement | null>(null);

  useEffect(() => {
    document.body.style.margin = "0";
    const canvas = ref.current;
    if (!canvas) return;
    const flux = [...flux1, ...flux2, ...flux3, ...flux4, ...flux5, ...flux6, ...flux7, ...flux8];
    const sky = [...sky1, ...sky2, ...sky3, ...sky4, ...sky5, ...sky6, ...sky7, ...sky8];
    const tickGrid = {
      drawOnChartArea: false,
      drawTicks: true,
      tickLength: 15,
      tickWidth: 3.3,
      tickColor: "#000000",
      lineWidth: 3.3,
      color: "#000000",
    };
    const chart = new Chart(canvas, {
      type: "line",
      data: {
        datasets: [
          { label: "flux", data: toXY(flux), borderColor: "#000000", borderWidth: 4.8, pointRadius: 0, tension: 0, clip: 0, order: 0, borderJoinStyle: "round" } as any,
          { label: "model", data: toXY(modelLine), borderColor: "#0000ff", borderWidth: 5.2, pointRadius: 0, tension: 0, clip: 0, order: 1 } as any,
          { label: "sky", data: toXY(sky), borderColor: "#008000", borderWidth: 1.5, pointRadius: 0, tension: 0, clip: 0, order: 2 } as any,
        ],
      },
      options: {
        animation: false,
        responsive: false,
        devicePixelRatio: 1,
        events: [],
        layout: { padding: { top: 36, left: 0, right: 300, bottom: 0 } },
        plugins: {
          legend: { display: false },
          tooltip: { enabled: false },
          title: {
            display: true,
            text: TITLE,
            fullSize: false,
            color: "#000000",
            font: { family: FONT, size: 50, weight: "normal" },
            padding: { top: 0, bottom: 12 },
          },
        },
        scales: {
          x: {
            type: "linear",
            min: X_MIN,
            max: X_MAX,
            afterBuildTicks: (s: any) => { s.ticks = X_TICKS.map((v) => ({ value: v })); },
            afterFit: (s: any) => { s.height = 99; },
            ticks: {
              color: "#000000",
              font: { family: FONT, size: 27 },
              padding: 9,
              autoSkip: false,
              maxRotation: 0,
              callback: (v: any) => String(v),
            },
            grid: tickGrid,
            border: { display: false },
            title: {
              display: true,
              text: X_LABEL,
              color: "#000000",
              font: { family: FONT, size: 33 },
              padding: { top: 0, bottom: 6 },
            },
          },
          y: {
            type: "linear",
            min: Y_MIN,
            max: Y_MAX,
            afterBuildTicks: (s: any) => { s.ticks = Y_TICKS.map((v) => ({ value: v })); },
            afterFit: (s: any) => { s.width = 375; },
            ticks: {
              color: "#000000",
              font: { family: FONT, size: 35 },
              padding: 18,
              autoSkip: false,
              callback: (v: any) => Number(v).toFixed(2).replace("-", "\u2212"),
            },
            grid: tickGrid,
            border: { display: false },
            title: {
              display: true,
              text: Y_LABEL,
              color: "#000000",
              font: { family: FONT, size: 47 },
              padding: { top: 159, bottom: 0 },
            },
          },
        },
      } as any,
      plugins: [framePlugin],
    });
    return () => chart.destroy();
  }, []);

  return (
    <div style={{ width: 3000, height: 900, background: "#ffffff" }}>
      <canvas ref={ref} width={3000} height={900} style={{ display: "block", width: 3000, height: 900 }} />
    </div>
  );
}
